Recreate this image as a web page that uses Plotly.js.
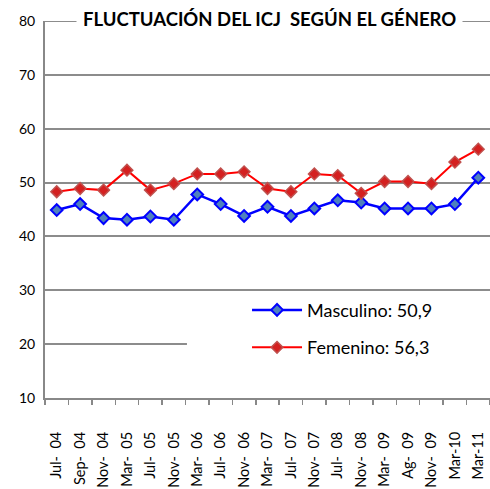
<!DOCTYPE html>
<html><head><meta charset="utf-8">
<script src="https://cdn.plot.ly/plotly-3.0.1.min.js"></script>
<style>html,body{margin:0;padding:0;background:#fff}</style>
</head><body><div id="chart" style="width:490px;height:489px"></div>
<script>
const categories = ["Jul-\u00a0 04","Sep-\u00a0 04","Nov-\u00a0 04","Mar-\u00a0 05","Jul-\u00a0 05","Nov-\u00a0 05","Mar-\u00a0 06","Jul-\u00a0 06","Nov-\u00a0 06","Mar-\u00a0 07","Jul-\u00a0 07","Nov-\u00a0 07","Jul-\u00a0 08","Nov-\u00a0 08","Mar-\u00a0 09","Ag-\u00a0 09","Nov-\u00a0 09","Mar-10","Mar-11"];
const masculino = [44.9,46.0,43.4,43.1,43.7,43.1,47.8,46.0,43.8,45.5,43.8,45.2,46.7,46.3,45.2,45.2,45.2,46.0,50.9];
const femenino  = [48.3,48.9,48.6,52.3,48.6,49.8,51.6,51.6,52.0,48.9,48.3,51.6,51.3,48.0,50.2,50.2,49.8,53.8,56.2];
const names = ["Masculino: 50,9","Femenino: 56,3"];
const titleText = "FLUCTUACIÓN DEL ICJ&nbsp; SEGÚN EL GÉNERO";
const yTop = 80;

const FONT = "Lato, 'Open Sans', sans-serif";
const traces = [
  {x: categories, y: masculino, name: names[0], type: 'scatter', mode: 'lines+markers', legendgroup: 'm',
   line: {color: '#0000FF', width: 2.5},
   marker: {symbol: 'diamond', size: 9, color: '#4F81BD', line: {color: '#0000FF', width: 2}}},
  {x: categories, y: femenino, name: names[1], type: 'scatter', mode: 'lines+markers', legendgroup: 'f',
   line: {color: '#FF0000', width: 2},
   marker: {symbol: 'diamond', size: 9, color: '#D42020', line: {color: '#C0504D', width: 1.5}}}
];
const layout = {
  width: 490, height: 489,
  margin: {l: 45, r: 0, t: 21, b: 91, pad: 0},
  paper_bgcolor: '#fff', plot_bgcolor: '#fff',
  font: {family: FONT, color: '#000', size: 14},
  showlegend: true,
  legend: {x: 0.454, xanchor: 'left', y: 0.282, yanchor: 'top', bgcolor: 'rgba(255,255,255,0)',
           font: {family: FONT, size: 18, color: '#000'}, traceorder: 'grouped', tracegroupgap: 11,
           itemwidth: 50},
  xaxis: {type: 'category', range: [-0.5, 18.5], showgrid: false, showline: true, linecolor: '#888', linewidth: 2,
          ticks: 'outside', tickson: 'boundaries', ticklen: 5, tickcolor: '#888', tickwidth: 1.5,
          tickangle: -90, ticklabelstandoff: 26, tickfont: {family: FONT, size: 14.5}, zeroline: false, fixedrange: true},
  yaxis: {range: [10, 80], dtick: 10, tick0: 10, showgrid: true, gridcolor: '#8c8c8c', gridwidth: 2,
          showline: true, linecolor: '#888', linewidth: 2, ticks: '', ticklabelstandoff: 5,
          tickfont: {family: FONT, size: 14}, zeroline: false, fixedrange: true},
  shapes: [
    {type: 'line', xref: 'paper', yref: 'y', x0: 0, x1: 1, y0: yTop, y1: yTop,
     line: {color: '#8c8c8c', width: 2}, layer: 'below'},
    {type: 'rect', xref: 'paper', yref: 'paper', x0: 0.319, x1: 1.01, y0: 0.07, y1: 0.26,
     fillcolor: '#fff', line: {width: 0}, layer: 'above'}
  ],
  annotations: [
    {xref: 'paper', yref: 'paper', x: 0.505, y: 1, yanchor: 'middle', yshift: 2, showarrow: false,
     text: '<b>' + titleText + '</b>', bgcolor: '#fff', borderpad: 6,
     font: {family: FONT, size: 18.5, color: '#000'}}
  ]
};
Plotly.newPlot('chart', traces, layout, {staticPlot: true, displayModeBar: false});
</script></body></html>
